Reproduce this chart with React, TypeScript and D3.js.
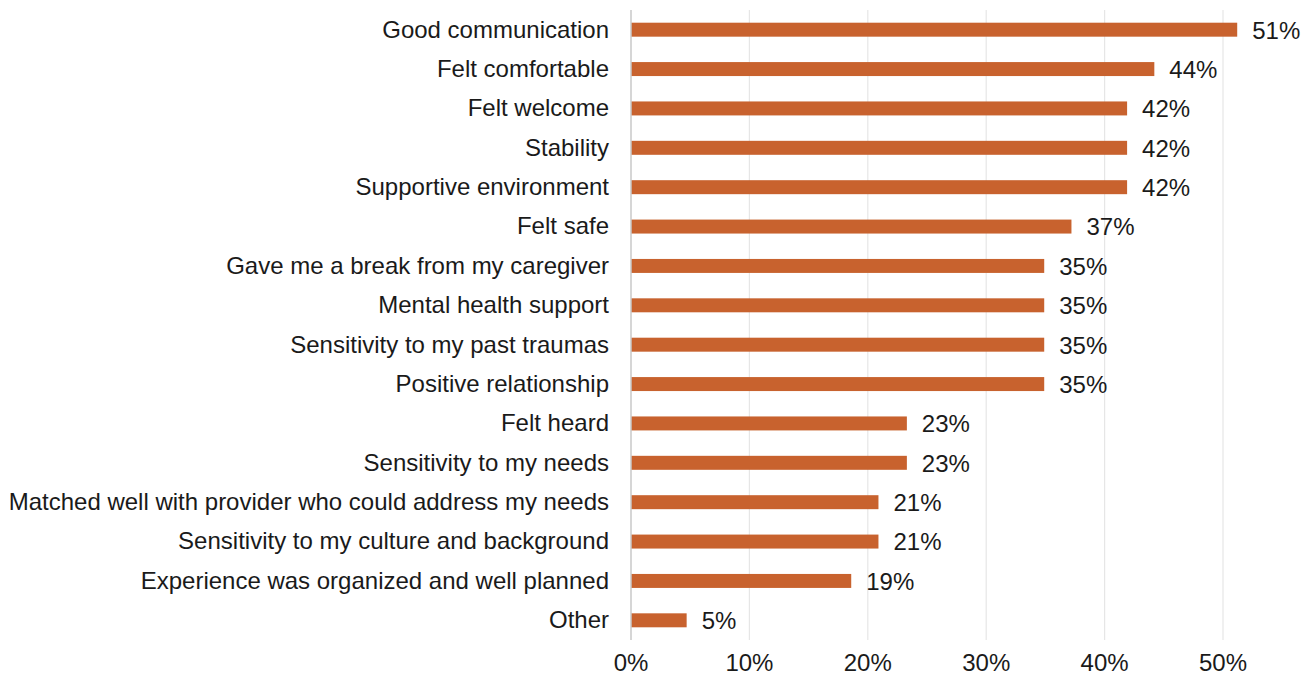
import React from "react";
import * as d3 from "d3";

const categories = [
  "Good communication",
  "Felt comfortable",
  "Felt welcome",
  "Stability",
  "Supportive environment",
  "Felt safe",
  "Gave me a break from my caregiver",
  "Mental health support",
  "Sensitivity to my past traumas",
  "Positive relationship",
  "Felt heard",
  "Sensitivity to my needs",
  "Matched well with provider who could address my needs",
  "Sensitivity to my culture and background",
  "Experience was organized and well planned",
  "Other",
];
const values = [51.2, 44.2, 41.9, 41.9, 41.9, 37.2, 34.9, 34.9, 34.9, 34.9, 23.3, 23.3, 20.9, 20.9, 18.6, 4.7];
const ticks = [0, 10, 20, 30, 40, 50];

export default function App() {
  const W = 1310, H = 677;
  const x0 = 631, x1 = 1223;
  const top = 10, bottom = 640;
  const fs = 24;
  const x = d3.scaleLinear().domain([0, 50]).range([x0, x1]);
  const y = d3.scaleBand<string>().domain(categories).range([top, bottom]).paddingInner(0.645).paddingOuter(0.3225);
  const font = "'Liberation Sans', Arial, sans-serif";
  return (
    <svg width={W} height={H} style={{ position: "absolute", left: 0, top: 0, background: "#fff" }} fontFamily={font}>
      {ticks.map((t) => (
        <g key={t}>
          {t > 0 && <line x1={x(t)} x2={x(t)} y1={top} y2={bottom} stroke="#e6e6e6" strokeWidth={1.2} />}
          <text x={x(t)} y={671} textAnchor="middle" fontSize={fs} fill="#1a1a1a">{t}%</text>
        </g>
      ))}
      {categories.map((c, i) => (
        <g key={c}>
          <rect x={x(0)} y={y(c)!} width={x(values[i]) - x(0)} height={y.bandwidth()} fill="#C8622E" />
          <text x={609} y={y(c)! + y.bandwidth() / 2 - 0.5} dy="0.35em" textAnchor="end" fontSize={fs} fill="#1a1a1a">{c}</text>
          <text x={x(values[i]) + 15} y={y(c)! + y.bandwidth() / 2 + 0.5} dy="0.35em" textAnchor="start" fontSize={fs} fill="#1a1a1a">{Math.round(values[i])}%</text>
        </g>
      ))}
      <line x1={x0} x2={x0} y1={top} y2={bottom} stroke="#c8c8c8" strokeWidth={1.5} />
    </svg>
  );
}
